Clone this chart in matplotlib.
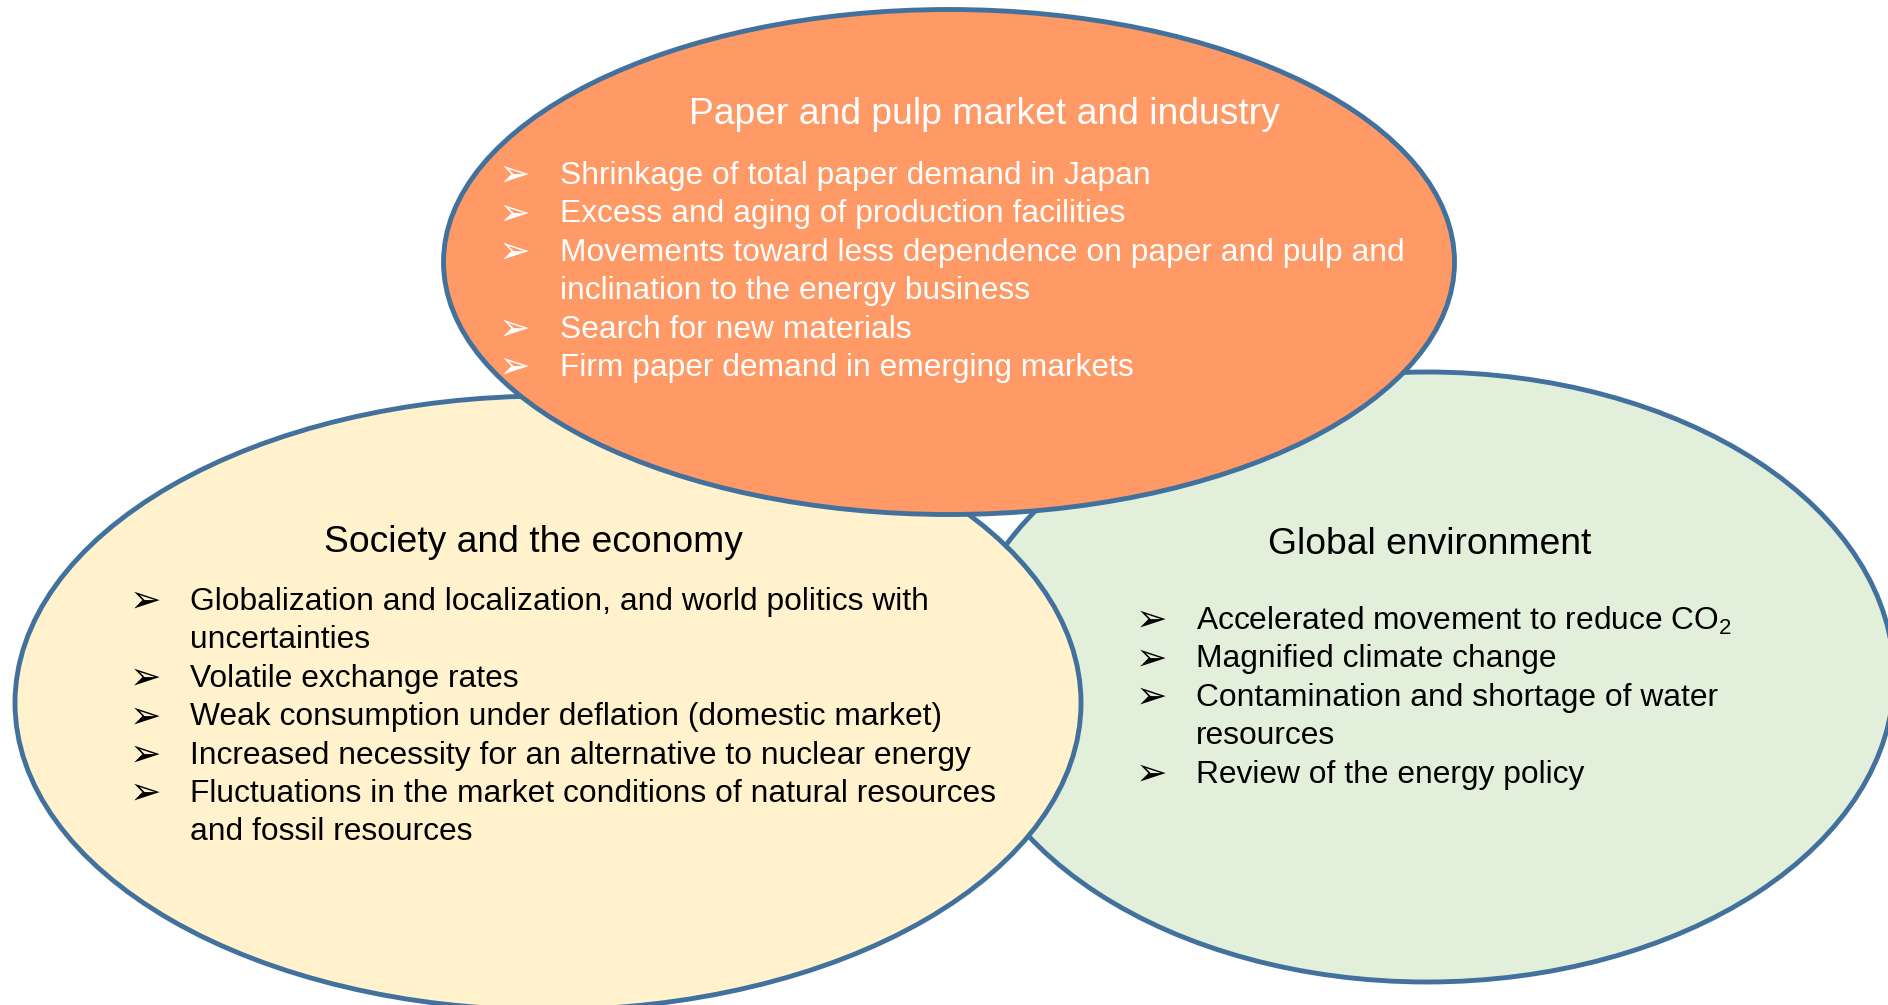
import matplotlib
matplotlib.use('Agg')
import matplotlib.pyplot as plt
from matplotlib.patches import Ellipse

plt.rcParams['font.family'] = ['Liberation Sans', 'DejaVu Sans']
plt.rcParams['mathtext.fontset'] = 'custom'
plt.rcParams['mathtext.rm'] = 'Liberation Sans'

# Text content of the three circles
industry_title = 'Paper and pulp market and industry'
industry_items = [
    'Shrinkage of total paper demand in Japan',
    'Excess and aging of production facilities',
    'Movements toward less dependence on paper and pulp and\ninclination to the energy business',
    'Search for new materials',
    'Firm paper demand in emerging markets',
]

society_title = 'Society and the economy'
society_items = [
    'Globalization and localization, and world politics with\nuncertainties',
    'Volatile exchange rates',
    'Weak consumption under deflation (domestic market)',
    'Increased necessity for an alternative to nuclear energy',
    'Fluctuations in the market conditions of natural resources\nand fossil resources',
]

environment_title = 'Global environment'
environment_items = [
    'Accelerated movement to reduce CO$_\\mathregular{2}$',
    'Magnified climate change',
    'Contamination and shortage of water\nresources',
    'Review of the energy policy',
]

edge = '#41719C'
line_h = 38.4


def bullets(ax, items, x_arrow, x_text, y0, color):
    y = y0
    for item in items:
        parts = item.split('\n')
        ax.text(x_arrow, y, '\u27a2', fontsize=27, color=color, va='center', ha='left',
                family=['DejaVu Sans'], zorder=5)
        for p in parts:
            ax.text(x_text, y, p, fontsize=22.9, color=color, va='center', ha='left', zorder=5)
            y += line_h


fig = plt.figure(figsize=(18.88, 10.05), dpi=100)
ax = fig.add_axes([0, 0, 1, 1])
ax.set_xlim(0, 1888)
ax.set_ylim(1005, 0)
ax.axis('off')

# Ellipses (green at the back, orange on top)
ax.add_patch(Ellipse((1427, 677), 934, 610, facecolor='#E2EFDA', edgecolor=edge, lw=3.5, zorder=1))
ax.add_patch(Ellipse((548, 703), 1066, 614, facecolor='#FFF2CC', edgecolor=edge, lw=3.5, zorder=2))
ax.add_patch(Ellipse((949, 262), 1011, 505, facecolor='#FF9966', edgecolor=edge, lw=3.5, zorder=3))

# Top circle text
ax.text(984, 114, industry_title, fontsize=26.8, color='white', ha='center', va='center', zorder=5)
bullets(ax, industry_items, 499, 560, 176, 'white')

# Left circle text
ax.text(533, 542, society_title, fontsize=26.8, color='black', ha='center', va='center', zorder=5)
bullets(ax, society_items, 130, 190, 602, 'black')

# Right circle text
ax.text(1430, 544, environment_title, fontsize=26.8, color='black', ha='center', va='center', zorder=5)
bullets(ax, environment_items, 1136, 1196, 621, 'black')

fig.savefig('out.png', dpi=100, facecolor='white')
